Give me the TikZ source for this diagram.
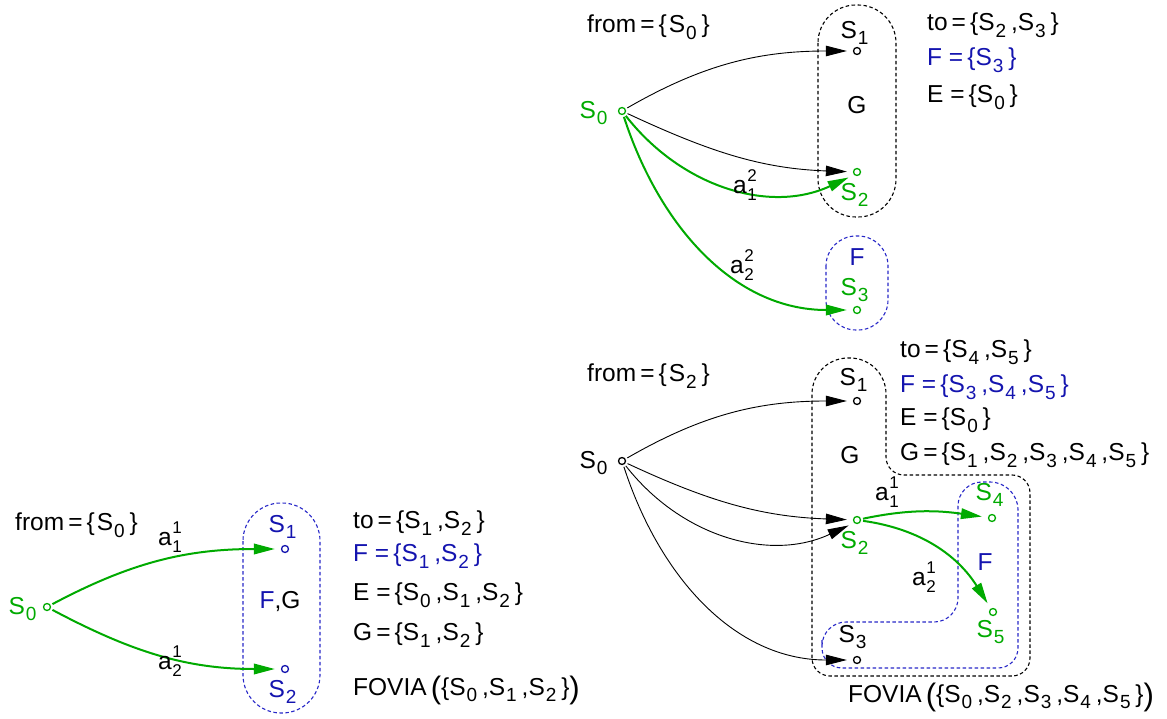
\documentclass[tikz,border=0pt]{standalone}
\usepackage{fontspec}
\setmainfont{Liberation Sans}
\usetikzlibrary{arrows.meta}
\definecolor{grn}{RGB}{0,170,0}
\definecolor{blu}{RGB}{20,20,175}
\definecolor{bludash}{RGB}{40,40,200}
\newcommand{\Ss}[1]{S\kern0.04em\raisebox{-0.28em}{\fontsize{19}{19}\selectfont #1}\kern0.2em}
\newcommand{\asub}[2]{a\kern0.02em\rlap{\raisebox{0.48em}{\fontsize{17}{17}\selectfont #2}}\raisebox{-0.3em}{\fontsize{17}{17}\selectfont #1}}
\newcommand{\bigp}[1]{\raisebox{-0.12em}{\fontsize{31}{31}\selectfont #1}}
\begin{document}
\begin{tikzpicture}[x=1pt,y=1pt,
  every node/.style={font=\fontsize{24.5}{28}\selectfont, inner sep=0pt},
  txt/.style={anchor=west},
  st/.style={circle, draw, minimum size=7pt, line width=1.3pt},
  barrow/.style={line width=0.9pt, -{Triangle[length=21pt,width=10.5pt]}, shorten >=6pt, shorten <=2pt},
  garrow/.style={grn, line width=2pt, -{Triangle[length=21pt,width=10.5pt]}, shorten >=6pt, shorten <=2pt},
  reg/.style={line width=1.1pt, dash pattern=on 3.5pt off 2.5pt}]
\useasboundingbox (0,0) rectangle (1167,-719);

% ---------- Panel A ----------
\node[txt] (afrom) at (15,-525) {from\,=\,\{\kern0.08em\Ss0\}};
\node[st, grn] (a0) at (47,-607) {};
\node[grn] (a0l) at (25,-609) {\Ss0};
\node[st, blu] (a1) at (285,-549) {};
\node[blu] (a1l) at (285,-527) {\Ss1};
\node[st, blu] (a2) at (285,-669) {};
\node[blu] (a2l) at (285,-692) {\Ss2};
\node (afg) at (280,-602) {{\color{blu}F},G};
\draw[reg, bludash, rounded corners=38pt] (243,-503) rectangle (320,-713);
\draw[garrow] (a0) to[out=28,in=180] (a1);
\draw[garrow] (a0) to[out=-28,in=180] (a2);
\node (aa1) at (170,-537) {\asub{1}{1}};
\node (aa2) at (170,-661) {\asub{2}{1}};
\node[txt] (ato) at (353,-523) {to\,=\,\{\Ss1,\Ss2\}};
\node[txt, blu] (aF) at (353,-556) {F\ =\,\{\Ss1,\Ss2\}};
\node[txt] (aE) at (353,-595) {E\ =\,\{\Ss0,\Ss1,\Ss2\}};
\node[txt] (aG) at (353,-635) {G\,=\,\{\Ss1,\Ss2\}};
\node[txt] (aFO) at (353,-690) {FOVIA\,\bigp{(}\{\Ss0,\Ss1,\Ss2\}\bigp{)}};

% ---------- Panel B ----------
\node[txt] (bfrom) at (587,-27) {from\,=\,\{\kern0.08em\Ss0\}};
\node[st, grn] (b0) at (622,-111) {};
\node[grn] (b0l) at (596,-113) {\Ss0};
\node[st] (b1) at (857,-51) {};
\node (b1l) at (857,-33) {\Ss1};
\node[st, grn] (b2) at (857,-172) {};
\node[grn] (b2l) at (857,-195) {\Ss2};
\node (bG) at (857,-105) {G};
\node[st, grn] (b3) at (857,-310) {};
\node[grn] (b3l) at (857,-290) {\Ss3};
\node[blu] (bF) at (857,-257) {F};
\draw[reg, rounded corners=38pt] (818,-5) rectangle (896,-217);
\draw[reg, bludash, rounded corners=30pt] (826,-236) rectangle (888,-330);
\node[txt] (bto) at (927,-25) {to\,=\,\{\Ss2,\Ss3\}};
\node[txt, blu] (bFt) at (927,-60) {F\ =\,\{\Ss3\}};
\node[txt] (bE) at (927,-97) {E\ =\,\{\Ss0\}};
\draw[barrow] (b0) to[out=30,in=180] (b1);
\draw[barrow] (b0) to[out=-25,in=178] (b2);
\draw[garrow] (b0) to[out=-52,in=205] (b2.south west);
\draw[garrow] (b0) to[out=-72,in=180] (b3);
\node (ba1) at (745,-185) {\asub{1}{2}};
\node (ba2) at (742,-265) {\asub{2}{2}};

% ---------- Panel C ----------
\node[txt] (cfrom) at (587,-376) {from\,=\,\{\kern0.08em\Ss2\}};
\node[st] (c0) at (622,-461) {};
\node (c0l) at (596,-463) {\Ss0};
\node[st] (c1) at (857,-401) {};
\node (c1l) at (856,-380) {\Ss1};
\node (cG) at (850,-455) {G};
\node[st, grn] (c2) at (857,-520) {};
\node[grn] (c2l) at (857,-543) {\Ss2};
\node[st] (c3) at (857,-660) {};
\node (c3l) at (855,-637) {\Ss3};
\node[st, grn] (c4) at (992,-518) {};
\node[grn] (c4l) at (992,-495) {\Ss4};
\node[st, grn] (c5) at (993,-612) {};
\node[grn] (c5l) at (993,-632) {\Ss5};
\node[blu] (cF) at (985,-562) {F};
\draw[reg] (812,-500) [rounded corners=36pt] -- (812,-358) -- (886,-358) [rounded corners=18pt] -- (886,-475) -- (1030,-475) -- (1030,-676) -- (812,-676) -- (812,-500);
\draw[reg, bludash] (822,-640) [rounded corners=24pt] -- (822,-622) -- (958,-622) -- (958,-482) [rounded corners=28pt] -- (1018,-482) [rounded corners=20pt] -- (1018,-668) -- (822,-668) -- (822,-640);
\node[txt] (cto) at (900,-352) {to\,=\,\{\Ss4,\Ss5\}};
\node[txt, blu] (cFt) at (900,-387) {F\ =\,\{\Ss3,\Ss4,\Ss5\}};
\node[txt] (cE) at (900,-420) {E\ =\,\{\Ss0\}};
\node[txt] (cGt) at (900,-455) {G\,=\,\{\Ss1,\Ss2,\Ss3,\Ss4,\Ss5\}};
\node[txt] (cFO) at (848,-697) {FOVIA\,\bigp{(}\{\Ss0,\Ss2,\Ss3,\Ss4,\Ss5\}\bigp{)}};
\draw[barrow] (c0) to[out=30,in=180] (c1);
\draw[barrow] (c0) to[out=-25,in=178] (c2);
\draw[barrow] (c0) to[out=-52,in=205] (c2.south west);
\draw[barrow] (c0) to[out=-72,in=180] (c3);
\draw[garrow] (c2) to[out=12,in=172] (c4);
\draw[garrow] (c2) to[out=-8,in=122] (c5);
\node (ca1) at (887,-492) {\asub{1}{1}};
\node (ca2) at (924,-577) {\asub{2}{1}};
\end{tikzpicture}
\end{document}
